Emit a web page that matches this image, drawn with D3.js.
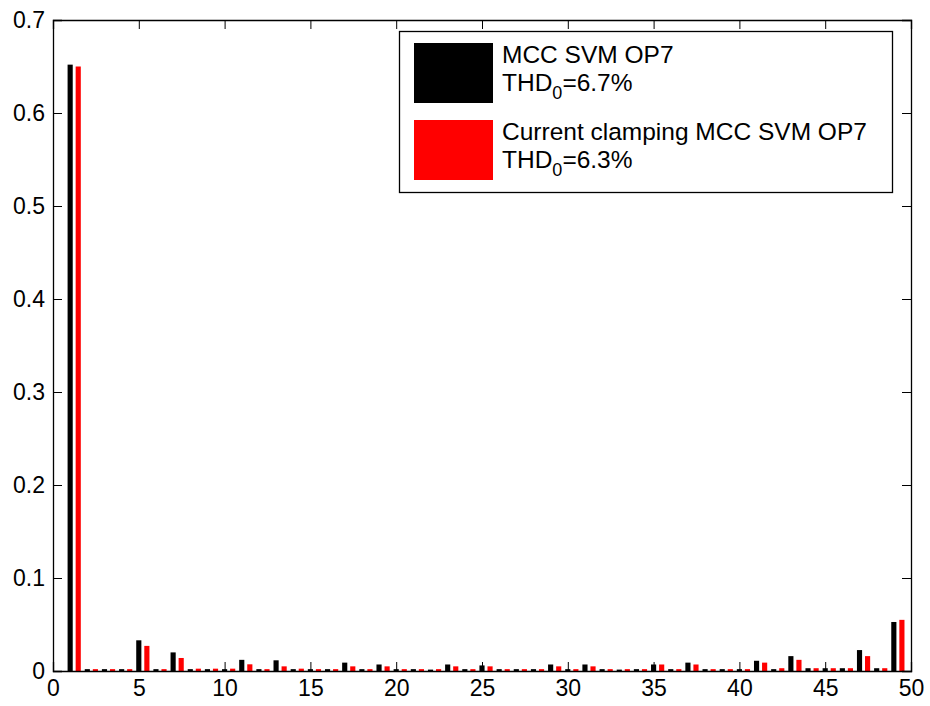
<!DOCTYPE html>
<html>
<head>
<meta charset="utf-8">
<script src="https://cdn.jsdelivr.net/npm/d3@7"></script>
<style>
  body { margin: 0; background: #fff; }
  svg { display: block; }
  text { font-family: "Liberation Sans", Arial, sans-serif; fill: #000; }
</style>
</head>
<body>
<svg id="chart" width="930" height="706"></svg>
<script>
// Harmonic orders
const harmonics = d3.range(1, 50);
// Series 1: MCC SVM OP7 (black)
const seriesMCC = [
  0.652, 0.002, 0.002, 0.002, 0.033, 0.002, 0.020, 0.002, 0.002, 0.002,
  0.012, 0.002, 0.0115, 0.002, 0.002, 0.002, 0.009, 0.002, 0.007, 0.002,
  0.002, 0.0015, 0.007, 0.002, 0.006, 0.002, 0.002, 0.002, 0.007, 0.002,
  0.007, 0.002, 0.0015, 0.002, 0.007, 0.002, 0.009, 0.002, 0.002, 0.002,
  0.011, 0.002, 0.016, 0.003, 0.003, 0.003, 0.0225, 0.003, 0.0527
];
// Series 2: Current clamping MCC SVM OP7 (red)
const seriesCC = [
  0.650, 0.002, 0.002, 0.002, 0.027, 0.002, 0.014, 0.0025, 0.0025, 0.0025,
  0.0072, 0.002, 0.005, 0.0025, 0.002, 0.002, 0.005, 0.002, 0.005, 0.002,
  0.002, 0.002, 0.005, 0.002, 0.005, 0.002, 0.002, 0.002, 0.005, 0.002,
  0.005, 0.002, 0.002, 0.002, 0.007, 0.002, 0.007, 0.002, 0.002, 0.002,
  0.009, 0.003, 0.012, 0.003, 0.003, 0.003, 0.016, 0.003, 0.055
];
const xTicks = [0, 5, 10, 15, 20, 25, 30, 35, 40, 45, 50];
const yTicks = [0, 0.1, 0.2, 0.3, 0.4, 0.5, 0.6, 0.7];
const seriesNames = ["MCC SVM OP7", "Current clamping MCC SVM OP7"];
const thdValues = ["6.7%", "6.3%"];
const seriesColors = ["#000000", "#ff0000"];

const svg = d3.select("#chart");
const L = 53, R = 911, T = 20, B = 671;
const x = d3.scaleLinear().domain([0, 50]).range([L, R]);
const y = d3.scaleLinear().domain([0, 0.7]).range([B, T]);

const barW = 0.3;
const offsets = [0, 0.47];
const seriesData = [seriesMCC, seriesCC];

seriesData.forEach((vals, si) => {
  svg.append("g").selectAll("rect")
    .data(harmonics.map((h, i) => ({ h, v: vals[i] })))
    .join("rect")
    .attr("x", d => x(d.h + offsets[si] - barW / 2))
    .attr("width", d => x(barW) - x(0))
    .attr("y", d => y(d.v))
    .attr("height", d => y(0) - y(d.v))
    .attr("fill", seriesColors[si]);
});

// Axes (MATLAB style: ticks inward, box)
const tickLen = 9;
const fs = 23;
const xAxisB = d3.axisBottom(x).tickValues(xTicks).tickSize(-tickLen).tickPadding(tickLen + 8).tickFormat(d3.format("d"));
const gxb = svg.append("g").attr("transform", `translate(0,${B})`).call(xAxisB);
const xAxisT = d3.axisTop(x).tickValues(xTicks).tickSize(-tickLen).tickFormat("");
const gxt = svg.append("g").attr("transform", `translate(0,${T})`).call(xAxisT);
const yAxisL = d3.axisLeft(y).tickValues(yTicks).tickSize(-tickLen).tickPadding(tickLen + 8).tickFormat(d => d === 0 ? "0" : d3.format(".1f")(d));
const gyl = svg.append("g").attr("transform", `translate(${L},0)`).call(yAxisL);
const yAxisR = d3.axisRight(y).tickValues(yTicks).tickSize(-tickLen).tickFormat("");
const gyr = svg.append("g").attr("transform", `translate(${R},0)`).call(yAxisR);

[gxb, gxt, gyl, gyr].forEach(g => {
  g.selectAll(".domain").attr("stroke", "#000").attr("stroke-width", 1.3);
  g.selectAll(".tick line").attr("stroke", "#000").attr("stroke-width", 1);
  g.selectAll("text").style("font-size", fs + "px").style("font-family", "Liberation Sans, Arial, sans-serif").attr("fill", "#000");
});
gxb.selectAll("text").attr("dy", "0.71em").attr("y", 9);
gyl.selectAll("text").attr("x", -8);

// Legend
const leg = svg.append("g");
leg.append("rect").attr("x", 399.5).attr("y", 31.5).attr("width", 493).attr("height", 161)
  .attr("fill", "#fff").attr("stroke", "#000").attr("stroke-width", 1.3);
const legTop = [43, 120];
seriesNames.forEach((name, i) => {
  leg.append("text").attr("x", 502).attr("y", legTop[i] + 20).style("font-size", "24.5px").text(name);
  leg.append("rect").attr("x", 414).attr("y", legTop[i]).attr("width", 79).attr("height", 60).attr("fill", seriesColors[i]);
  const t = leg.append("text").attr("x", 502).attr("y", legTop[i] + 48).style("font-size", "24.5px");
  t.append("tspan").text("THD");
  t.append("tspan").attr("dy", 8).style("font-size", "18px").text("0");
  t.append("tspan").attr("dy", -8).text("=" + thdValues[i]);
});
</script>
</body>
</html>
